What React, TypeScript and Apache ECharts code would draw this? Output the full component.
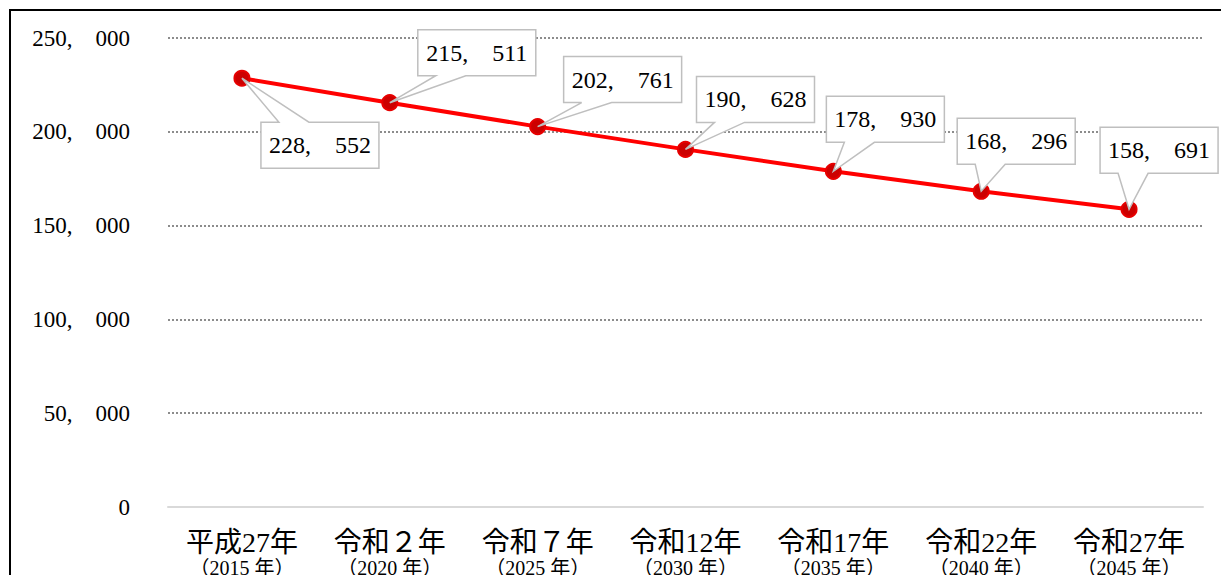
import React, { useEffect, useRef } from "react";
import * as echarts from "echarts";

const categories = ["平成27年", "令和２年", "令和７年", "令和12年", "令和17年", "令和22年", "令和27年"];
const westernYears = ["2015", "2020", "2025", "2030", "2035", "2040", "2045"];
const population = [228552, 215511, 202761, 190628, 178930, 168296, 158691];
const yTicks = [0, 50000, 100000, 150000, 200000, 250000];

// callout box centre offsets from each point (layout only)
const calloutOffsets: [number, number][] = [
  [78, 67],
  [87, -50],
  [85, -47],
  [70, -50],
  [52, -52],
  [35, -50],
  [30, -59],
];

const SERIF = '"Liberation Serif", "Noto Sans CJK JP", serif';

function fmt(v: number): string {
  const s = String(v);
  if (s.length <= 3) return s;
  return s.slice(0, s.length - 3) + ",\u2003" + s.slice(s.length - 3);
}

export default function App() {
  const ref = useRef<HTMLDivElement>(null);
  useEffect(() => {
    if (!ref.current) return;
    const chart = echarts.init(ref.current, undefined, { renderer: "svg" });
    const option: any = {
      animation: false,
      backgroundColor: "#ffffff",
      grid: { left: 168, right: 18, top: 38, bottom: 68, containLabel: false, outerBoundsMode: "none" },
      graphic: [
        {
          type: "rect",
          shape: { x: 10, y: 10, width: 1400, height: 800 },
          style: { fill: "none", stroke: "#000", lineWidth: 2 },
          silent: true,
          z: -10,
        },
      ],
      xAxis: {
        type: "category",
        data: categories.map((c, i) => c + "\n" + "（" + westernYears[i] + " 年）"),
        boundaryGap: true,
        axisLine: { show: true, lineStyle: { color: "#d9d9d9", width: 2 } },
        axisTick: { show: false },
        axisLabel: {
          margin: 20,
          interval: 0,
          formatter: (val: string) => {
            const [a, b] = val.split("\n");
            return "{a|" + a + "}\n{b|" + b + "}";
          },
          rich: {
            a: { fontFamily: SERIF, fontSize: 28, lineHeight: 30, color: "#000" },
            b: { fontFamily: SERIF, fontSize: 20, lineHeight: 21, color: "#000" },
          },
        },
      },
      yAxis: {
        type: "value",
        min: yTicks[0],
        max: yTicks[yTicks.length - 1],
        interval: yTicks[1] - yTicks[0],
        axisLine: { show: false },
        axisTick: { show: false },
        splitLine: { show: true, lineStyle: { color: "#8c8c8c", width: 2, type: [2, 2] } },
        axisLabel: {
          margin: 38,
          fontFamily: SERIF,
          fontSize: 23,
          color: "#000",
          formatter: (v: number) => fmt(v),
        },
      },
      series: [
        {
          type: "line",
          data: population,
          symbol: "circle",
          symbolSize: 15,
          lineStyle: { color: "#ff0000", width: 4 },
          itemStyle: { color: "#cc0000", borderColor: "#e60000", borderWidth: 2 },
          z: 3,
        },
        {
          type: "custom",
          data: population.map((v, i) => [i, v]),
          encode: { x: 0, y: 1 },
          clip: false,
          z: 5,
          renderItem: (params: any, api: any) => {
            const idx = api.value(0);
            const val = api.value(1);
            const pt = api.coord([idx, val]);
            const off = calloutOffsets[params.dataIndex];
            const w = 118;
            const h = 46;
            const cx = pt[0] + off[0];
            const cy = pt[1] + off[1];
            const l = cx - w / 2;
            const r = cx + w / 2;
            const t = cy - h / 2;
            const b = cy + h / 2;
            const b1 = l + 18;
            const b2 = l + 48;
            let points: number[][];
            if (off[1] < 0) {
              points = [[l, t], [r, t], [r, b], [b2, b], pt, [b1, b], [l, b]];
            } else {
              points = [[l, t], [b1, t], pt, [b2, t], [r, t], [r, b], [l, b]];
            }
            return {
              type: "group",
              children: [
                {
                  type: "polygon",
                  shape: { points },
                  style: { fill: "#ffffff", stroke: "#bfbfbf", lineWidth: 1.5 },
                },
                {
                  type: "text",
                  style: {
                    text: fmt(val),
                    x: cx,
                    y: cy,
                    align: "center",
                    verticalAlign: "middle",
                    fontFamily: SERIF,
                    fontSize: 24,
                    fill: "#000",
                  },
                },
              ],
            };
          },
        },
      ],
    };
    chart.setOption(option);
    return () => chart.dispose();
  }, []);
  return (
    <div
      ref={ref}
      style={{ position: "absolute", left: 0, top: 0, width: 1221, height: 575 }}
    />
  );
}
